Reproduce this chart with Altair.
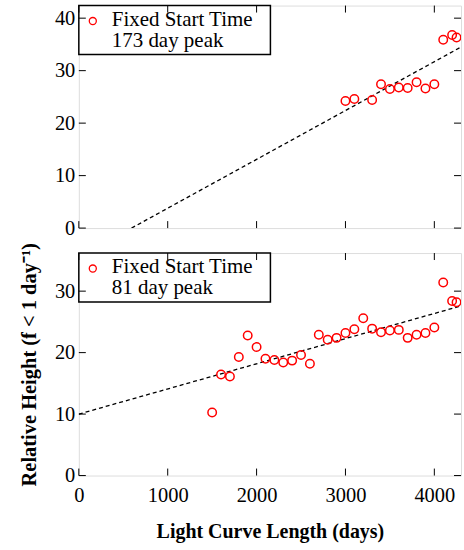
import altair as alt
import pandas as pd

# ---- data ----
x_ticks = [0, 1000, 2000, 3000, 4000]
y_ticks_top = [0, 10, 20, 30, 40]
y_ticks_bot = [0, 10, 20, 30]

top_len = [3000, 3100, 3300, 3400, 3500, 3600, 3700, 3800, 3900, 4000, 4100, 4200, 4250]
top_height = [24.2, 24.6, 24.4, 27.4, 26.5, 26.8, 26.7, 27.8, 26.6, 27.4, 35.9, 36.8, 36.3]

bot_len = [1500, 1600, 1700, 1800, 1900, 2000, 2100, 2200, 2300, 2400, 2500, 2600,
           2700, 2800, 2900, 3000, 3100, 3200, 3300, 3400, 3500, 3600, 3700, 3800,
           3900, 4000, 4100, 4200, 4250]
bot_height = [10.25, 16.45, 16.1, 19.3, 22.8, 20.9, 19.0, 18.8, 18.4, 18.7, 19.6, 18.2,
              22.9, 22.1, 22.4, 23.2, 23.8, 25.6, 23.9, 23.3, 23.6, 23.7, 22.4, 22.9,
              23.2, 24.1, 31.4, 28.4, 28.2]

fit_top_x = [593, 4300]
fit_top_y = [0.0, 34.5]
fit_bot_x = [0, 4300]
fit_bot_y = [10.0, 27.6]

legend_top = ["Fixed Start Time", "173 day peak"]
legend_bot = ["Fixed Start Time", "81 day peak"]

x_domain = [0, 4300]
y_domain_top = [0, 42.4]
y_domain_bot = [0, 36.2]

# ---- layout constants ----
W, H = 383, 223
TICK = 7
FONT = "Liberation Serif"
RED = "#ff0000"


def panel(px, py, fx, fy, ydom, yticks, legend_lines, show_x_axis, ytitle, ytitle_color):
    xs = alt.Scale(domain=x_domain, nice=False, zero=False)
    ys = alt.Scale(domain=ydom, nice=False, zero=False)
    if show_x_axis:
        xa = alt.Axis(values=x_ticks, format="d", ticks=False, domain=False, grid=False,
                      labelFont=FONT, labelFontSize=20.5, labelColor="black", labelPadding=10,
                      labelFlush=False, labelOverlap=False,
                      title="Light Curve Length (days)", titleFont=FONT, titleFontSize=20,
                      titleFontWeight="bold", titleColor="black", titlePadding=16)
    else:
        xa = None
    ya = alt.Axis(values=yticks, format="d", ticks=False, domain=False, grid=False,
                  labelFont=FONT, labelFontSize=20.5, labelColor="black", labelPadding=4,
                  labelFlush=False, labelOverlap=False,
                  title=ytitle, titleFont=FONT, titleFontSize=20.5, titleFontWeight="bold",
                  titleColor=ytitle_color, titlePadding=15)

    pts = pd.DataFrame({"len": px, "h": py})
    fit = pd.DataFrame({"len": fx, "h": fy})
    xt = pd.DataFrame({"t": x_ticks})
    yt = pd.DataFrame({"t": yticks})
    leg = pd.DataFrame({"line": legend_lines, "i": [0, 1]})
    one = pd.DataFrame({"a": [0]})

    line = alt.Chart(fit).mark_line(color="black", strokeDash=[4, 3], strokeWidth=1.3, clip=True).encode(
        x=alt.X("len:Q", scale=xs, axis=xa), y=alt.Y("h:Q", scale=ys, axis=ya))
    points = alt.Chart(pts).mark_point(shape="circle", size=72, color=RED, strokeWidth=1.5,
                                       filled=False, opacity=1, clip=True).encode(
        x=alt.X("len:Q", scale=xs, axis=xa), y=alt.Y("h:Q", scale=ys, axis=ya))

    tb = alt.Chart(xt).mark_rule(color="black", strokeWidth=1).encode(
        x=alt.X("t:Q", scale=xs, axis=xa), y=alt.value(H), y2=alt.value(H - TICK))
    tt = alt.Chart(xt).mark_rule(color="black", strokeWidth=1).encode(
        x=alt.X("t:Q", scale=xs, axis=xa), y=alt.value(0), y2=alt.value(TICK))
    tl = alt.Chart(yt).mark_rule(color="black", strokeWidth=1).encode(
        y=alt.Y("t:Q", scale=ys, axis=ya), x=alt.value(0), x2=alt.value(TICK))
    tr = alt.Chart(yt).mark_rule(color="black", strokeWidth=1).encode(
        y=alt.Y("t:Q", scale=ys, axis=ya), x=alt.value(W), x2=alt.value(W - TICK))

    box = alt.Chart(one).mark_rect(fill="white", stroke="black", strokeWidth=1.5).encode(
        x=alt.value(0), x2=alt.value(192), y=alt.value(0), y2=alt.value(49))
    sym = alt.Chart(one).mark_point(shape="circle", size=50, color=RED, strokeWidth=1.3,
                                    filled=False, opacity=1).encode(x=alt.value(14), y=alt.value(15.5))
    txt1 = alt.Chart(leg).transform_filter("datum.i == 0").mark_text(
        font=FONT, fontSize=21, align="left", baseline="alphabetic", color="black").encode(
        text="line:N", x=alt.value(33), y=alt.value(20.5))
    txt2 = alt.Chart(leg).transform_filter("datum.i == 1").mark_text(
        font=FONT, fontSize=21, align="left", baseline="alphabetic", color="black").encode(
        text="line:N", x=alt.value(33), y=alt.value(41.5))

    return alt.layer(line, points, box, sym, txt1, txt2, tb, tt, tl, tr).properties(
        width=W, height=H)


top = panel(top_len, top_height, fit_top_x, fit_top_y, y_domain_top, y_ticks_top,
            legend_top, False, "R", "transparent")
bot = panel(bot_len, bot_height, fit_bot_x, fit_bot_y, y_domain_bot, y_ticks_bot,
            legend_bot, True, "Relative Height (f < 1 day\u207b\u00b9)", "black")

chart = alt.vconcat(top, bot, spacing=25, bounds="flush").properties(
    padding={"left": 18, "top": 3, "right": 2, "bottom": 0}
).configure_view(stroke="black", strokeWidth=2).configure(background="white")

chart.save("out.html", embed_options={"renderer": "svg", "actions": False})
